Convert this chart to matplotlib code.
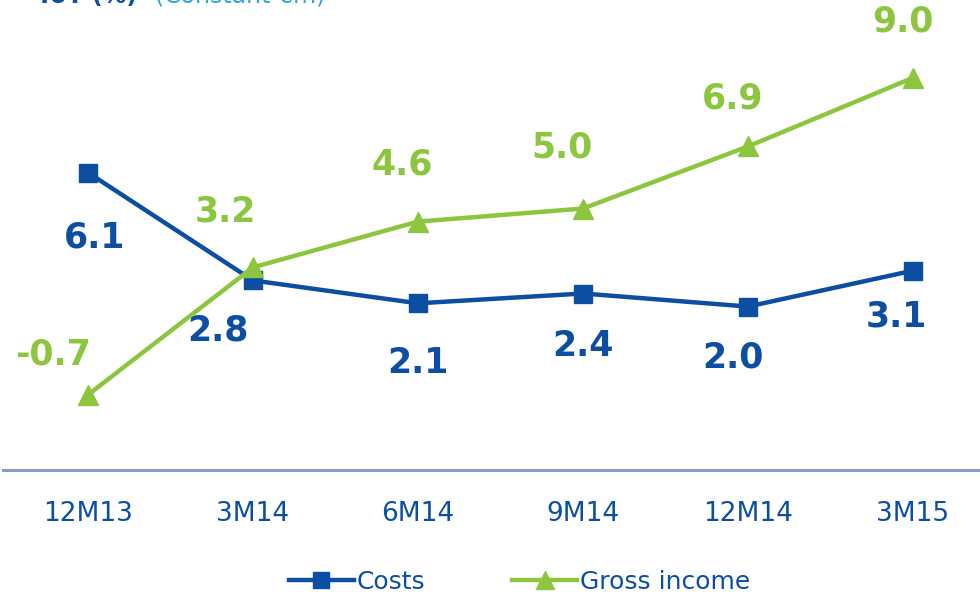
import matplotlib.pyplot as plt

# data
periods = ["12M13", "3M14", "6M14", "9M14", "12M14", "3M15"]
costs = [6.1, 2.8, 2.1, 2.4, 2.0, 3.1]
gross_income = [-0.7, 3.2, 4.6, 5.0, 6.9, 9.0]

BLUE = "#0B4EA2"
GREEN = "#8CC63F"
LIGHT_BLUE = "#2AA7E0"

W, H = 980, 595
fig = plt.figure(figsize=(W / 100, H / 100), dpi=100)
ax = fig.add_axes([3 / W, 125 / H, 1 - 3 / W, 470 / H])

x = list(range(len(periods)))
ax.plot(x, costs, color=BLUE, lw=3.2, marker="s", ms=13, label="Costs", zorder=3)
ax.plot(x, gross_income, color=GREEN, lw=3.2, marker="^", ms=15, label="Gross income", zorder=4)

ax.set_xlim(-0.515, 5.406)
ax.set_ylim(-3.0, 11.38)

for s in ["top", "right", "left"]:
    ax.spines[s].set_visible(False)
ax.spines["bottom"].set_color("#8A9CC4")
ax.spines["bottom"].set_linewidth(2.2)
ax.set_yticks([])
ax.set_xticks(x)
ax.set_xticklabels(periods, color=BLUE, fontsize=19)
ax.tick_params(axis="x", length=0, pad=22)

lab_font = dict(fontsize=25, fontweight="bold", ha="center", va="center",
                textcoords="offset pixels", annotation_clip=False)

cost_offsets = [(7, -65), (-35, -50), (0, -60), (0, -52), (-15, -51), (-17, -46)]
for xi, v, off in zip(x, costs, cost_offsets):
    ax.annotate(f"{v:.1f}", (xi, v), xytext=off, color=BLUE, **lab_font)

gi_offsets = [(-35, 40), (-28, 56), (-16, 57), (-21, 61), (-15, 48), (-10, 56)]
for xi, v, off in zip(x, gross_income, gi_offsets):
    ax.annotate(f"{v:.1f}", (xi, v), xytext=off, color=GREEN, **lab_font)

fig.text(35 / W, 1 + 4 / H, "YoY (%)", color=BLUE, fontsize=17, fontweight="bold",
         va="center", ha="left")
fig.text(155 / W, 1 + 4 / H, "(Constant €m)", color=LIGHT_BLUE, fontsize=17,
         va="center", ha="left")

leg = fig.legend(loc="center", bbox_to_anchor=(0.53, 1 - 582 / H), ncol=2,
                 frameon=False, fontsize=18, handlelength=2.6, columnspacing=3.5,
                 handletextpad=0.1, markerscale=0.85)
for t in leg.get_texts():
    t.set_color(BLUE)

fig.savefig("out.png", dpi=100)
